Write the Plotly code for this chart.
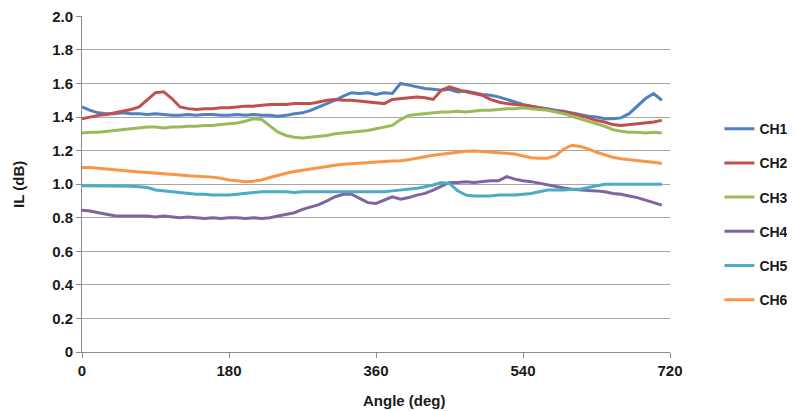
import plotly.graph_objects as go

angles = list(range(0, 720, 10))

ch1 = [1.46, 1.44, 1.425, 1.42, 1.42, 1.425, 1.42, 1.42, 1.415, 1.42,
       1.415, 1.41, 1.41, 1.415, 1.41, 1.415, 1.415, 1.41, 1.41, 1.415,
       1.41, 1.415, 1.41, 1.41, 1.405, 1.41, 1.42, 1.425, 1.44, 1.46,
       1.48, 1.50, 1.525, 1.545, 1.54, 1.545, 1.535, 1.545, 1.54, 1.60,
       1.59, 1.58, 1.57, 1.565, 1.56, 1.565, 1.55, 1.555, 1.545, 1.535,
       1.53, 1.52, 1.505, 1.49, 1.475, 1.465, 1.455, 1.45, 1.44, 1.435,
       1.425, 1.415, 1.405, 1.40, 1.39, 1.39, 1.395, 1.42, 1.465, 1.51,
       1.54, 1.50]

ch2 = [1.39, 1.40, 1.41, 1.415, 1.425, 1.435, 1.445, 1.46, 1.50, 1.545,
       1.55, 1.51, 1.46, 1.45, 1.445, 1.45, 1.45, 1.455, 1.455, 1.46,
       1.465, 1.465, 1.47, 1.475, 1.475, 1.475, 1.48, 1.48, 1.48, 1.49,
       1.50, 1.505, 1.50, 1.50, 1.495, 1.49, 1.485, 1.48, 1.505, 1.51,
       1.515, 1.52, 1.515, 1.505, 1.56, 1.58, 1.565, 1.55, 1.54, 1.53,
       1.505, 1.49, 1.48, 1.475, 1.47, 1.465, 1.455, 1.445, 1.435, 1.43,
       1.42, 1.41, 1.395, 1.38, 1.37, 1.355, 1.35, 1.355, 1.36, 1.365,
       1.37, 1.38]

ch3 = [1.305, 1.31, 1.31, 1.315, 1.32, 1.325, 1.33, 1.335, 1.34, 1.34,
       1.335, 1.34, 1.34, 1.345, 1.345, 1.35, 1.35, 1.355, 1.36, 1.365,
       1.375, 1.39, 1.385, 1.35, 1.31, 1.29, 1.28, 1.275, 1.28, 1.285,
       1.29, 1.30, 1.305, 1.31, 1.315, 1.32, 1.33, 1.34, 1.35, 1.385,
       1.41, 1.415, 1.42, 1.425, 1.43, 1.43, 1.435, 1.43, 1.435, 1.44,
       1.44, 1.445, 1.45, 1.45, 1.455, 1.45, 1.445, 1.44, 1.43, 1.42,
       1.405, 1.39, 1.375, 1.36, 1.345, 1.325, 1.315, 1.31, 1.31, 1.305,
       1.31, 1.305]

ch4 = [0.845, 0.84, 0.83, 0.82, 0.812, 0.81, 0.812, 0.81, 0.81, 0.805,
       0.81, 0.805, 0.80, 0.805, 0.80, 0.795, 0.80, 0.795, 0.80, 0.80,
       0.795, 0.80, 0.795, 0.80, 0.81, 0.82, 0.83, 0.85, 0.865, 0.878,
       0.90, 0.925, 0.94, 0.94, 0.915, 0.89, 0.885, 0.905, 0.925, 0.91,
       0.92, 0.935, 0.945, 0.965, 0.99, 1.01, 1.01, 1.015, 1.01, 1.015,
       1.02, 1.02, 1.045, 1.03, 1.02, 1.015, 1.005, 0.995, 0.985, 0.977,
       0.97, 0.965, 0.962, 0.96, 0.955, 0.945, 0.94, 0.93, 0.92, 0.905,
       0.89, 0.875]

ch5 = [0.99, 0.99, 0.99, 0.99, 0.99, 0.99, 0.988, 0.985, 0.98, 0.965,
       0.96, 0.955, 0.95, 0.945, 0.94, 0.94, 0.935, 0.935, 0.935, 0.94,
       0.945, 0.95, 0.955, 0.955, 0.955, 0.955, 0.95, 0.955, 0.955, 0.955,
       0.955, 0.955, 0.955, 0.955, 0.955, 0.955, 0.955, 0.955, 0.96, 0.965,
       0.97, 0.975, 0.985, 0.995, 1.01, 1.005, 0.96, 0.935, 0.93, 0.93,
       0.93, 0.935, 0.935, 0.935, 0.94, 0.945, 0.955, 0.965, 0.965, 0.965,
       0.97, 0.97, 0.98, 0.99, 1.0, 1.0, 1.0, 1.0, 1.0, 1.0,
       1.0, 1.0]

ch6 = [1.10, 1.10, 1.095, 1.09, 1.085, 1.08, 1.075, 1.072, 1.07, 1.065,
       1.06, 1.058, 1.054, 1.05, 1.048, 1.045, 1.042, 1.035, 1.025, 1.02,
       1.015, 1.018, 1.025, 1.04, 1.054, 1.065, 1.075, 1.083, 1.09, 1.10,
       1.108, 1.113, 1.118, 1.122, 1.126, 1.13, 1.132, 1.135, 1.138, 1.14,
       1.145, 1.155, 1.165, 1.172, 1.178, 1.185, 1.19, 1.196, 1.198, 1.195,
       1.192, 1.19, 1.185, 1.18, 1.168, 1.157, 1.155, 1.155, 1.17, 1.21,
       1.232, 1.225, 1.21, 1.19, 1.175, 1.16, 1.152, 1.145, 1.142, 1.135,
       1.13, 1.123]

series_names = ["CH1", "CH2", "CH3", "CH4", "CH5", "CH6"]
series_values = [ch1, ch2, ch3, ch4, ch5, ch6]
colors = ["#4F81BD", "#C0504D", "#9BBB59", "#8064A2", "#4BACC6", "#F79646"]

x_ticks = [0, 180, 360, 540, 720]
y_ticks = [0, 0.2, 0.4, 0.6, 0.8, 1.0, 1.2, 1.4, 1.6, 1.8, 2.0]
y_ticktext = ["0", "0.2", "0.4", "0.6", "0.8", "1.0", "1.2", "1.4", "1.6", "1.8", "2.0"]

FONT = "Liberation Sans, Arial, sans-serif"
TXT = "#1a1a1a"

fig = go.Figure()
for name, vals, col in zip(series_names, series_values, colors):
    fig.add_trace(go.Scatter(
        x=angles, y=vals, mode="lines", name=name,
        line=dict(color=col, width=3),
        legendgroup=name,
    ))

fig.update_layout(
    width=795, height=411,
    margin=dict(l=74, r=133, t=8, b=67, autoexpand=False),
    paper_bgcolor="white", plot_bgcolor="white",
    font=dict(family=FONT, size=14, color=TXT, weight="bold"),
    showlegend=True,
    legend=dict(
        xref="paper", yref="paper",
        x=1.084, y=0.711, xanchor="left", yanchor="top",
        font=dict(family=FONT, size=14, color=TXT, weight="bold"),
        tracegroupgap=13, itemwidth=30, bgcolor="rgba(0,0,0,0)",
    ),
    xaxis=dict(
        range=[0, 720], tickvals=x_ticks, showgrid=False,
        showline=True, linecolor="#8c8c8c", linewidth=1,
        ticks="outside", ticklen=5, tickcolor="#8c8c8c",
        tickfont=dict(family=FONT, size=15, color=TXT, weight="bold"),
        ticklabeloverflow="allow",
        zeroline=False,
    ),
    yaxis=dict(
        range=[0, 2.002], tickvals=y_ticks, ticktext=y_ticktext,
        showgrid=True, gridcolor="#a6a6a6", gridwidth=1,
        showline=True, linecolor="#8c8c8c", linewidth=1,
        ticks="outside", ticklen=5, tickcolor="#8c8c8c",
        tickfont=dict(family=FONT, size=15, color=TXT, weight="bold"),
        ticklabeloverflow="allow",
        zeroline=False,
    ),
    annotations=[
        dict(text="Angle (deg)", xref="paper", yref="paper",
             x=0.549, y=-0.143, xanchor="center", yanchor="middle",
             showarrow=False,
             font=dict(family=FONT, size=15, color=TXT, weight="bold")),
        dict(text="IL (dB)", xref="paper", yref="paper", textangle=-90,
             x=-0.109, y=0.5, xanchor="center", yanchor="middle",
             showarrow=False,
             font=dict(family=FONT, size=15, color=TXT, weight="bold")),
    ],
)

fig.write_html("out.html")
